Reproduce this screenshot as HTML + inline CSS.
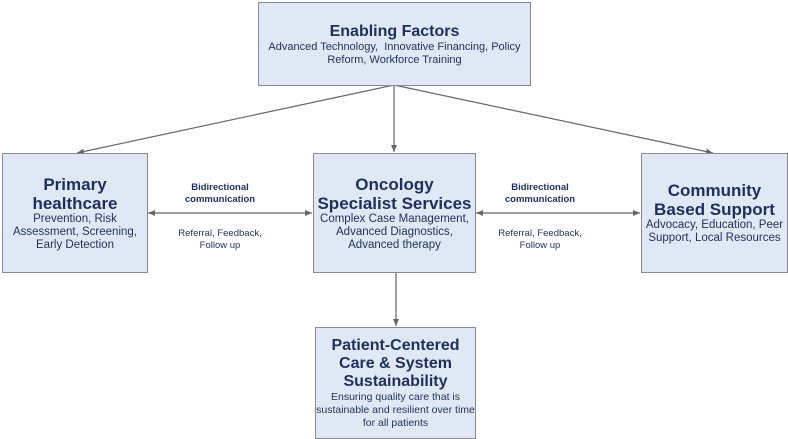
<!DOCTYPE html>
<html><head><style>
body{margin:0;width:788px;height:435px;background:#fff;position:relative;overflow:hidden;font-family:"Liberation Sans",sans-serif;color:#1f2f5c}
.b{position:absolute;background:#dfe8f4;border:1.5px solid #8a8a8a;box-sizing:border-box;text-align:center;display:flex;flex-direction:column;justify-content:center}
.t{font-weight:bold;font-size:17px;line-height:19px}
.s{font-size:11.5px;line-height:13px}
.l{position:absolute;text-align:center;font-size:9.5px;line-height:12px}
</style></head><body>
<svg width="788" height="435" style="position:absolute;left:0;top:0">
<defs><marker id="a" markerWidth="8" markerHeight="8" refX="7" refY="4" orient="auto-start-reverse" markerUnits="userSpaceOnUse"><path d="M0,1 L7,4 L0,7 z" fill="#666"/></marker></defs>
<g stroke="#666" stroke-width="1.2" fill="none">
<line x1="394" y1="85" x2="77" y2="153" marker-end="url(#a)"/>
<line x1="394" y1="85" x2="394" y2="152" marker-end="url(#a)"/>
<line x1="394" y1="85" x2="713" y2="153" marker-end="url(#a)"/>
<line x1="396" y1="272" x2="396" y2="326" marker-end="url(#a)"/>
<line x1="148" y1="213" x2="312" y2="213" marker-start="url(#a)" marker-end="url(#a)"/>
<line x1="476" y1="213" x2="640" y2="213" marker-start="url(#a)" marker-end="url(#a)"/>
</g></svg>
<div class="b" style="left:258px;top:2px;width:273px;height:84px"><div class="t" style="font-size:16px">Enabling Factors</div><div class="s" style="font-size:11px">Advanced Technology,&nbsp; Innovative Financing, Policy Reform, Workforce Training</div></div>
<div class="b" style="left:2px;top:153px;width:146px;height:120px"><div class="t">Primary healthcare</div><div class="s">Prevention, Risk Assessment, Screening, Early Detection</div></div>
<div class="b" style="left:313px;top:153px;width:163px;height:120px"><div class="t">Oncology Specialist Services</div><div class="s">Complex Case Management, Advanced Diagnostics, Advanced therapy</div></div>
<div class="b" style="left:641px;top:153px;width:147px;height:120px"><div class="t">Community Based Support</div><div class="s">Advocacy, Education, Peer Support, Local Resources</div></div>
<div class="b" style="left:315px;top:327px;width:161px;height:112px;justify-content:flex-start;padding-top:9px"><div class="t" style="font-size:16px;line-height:18px">Patient-Centered Care &amp; System Sustainability</div><div class="s" style="font-size:10.5px;line-height:13px">Ensuring quality care that is sustainable and resilient over time for all patients</div></div>
<div class="l" style="left:160px;top:182px;width:120px;font-weight:bold">Bidirectional<br>communication</div>
<div class="l" style="left:160px;top:228px;width:120px">Referral, Feedback,<br>Follow up</div>
<div class="l" style="left:480px;top:182px;width:120px;font-weight:bold">Bidirectional<br>communication</div>
<div class="l" style="left:480px;top:228px;width:120px">Referral, Feedback,<br>Follow up</div>
</body></html>
